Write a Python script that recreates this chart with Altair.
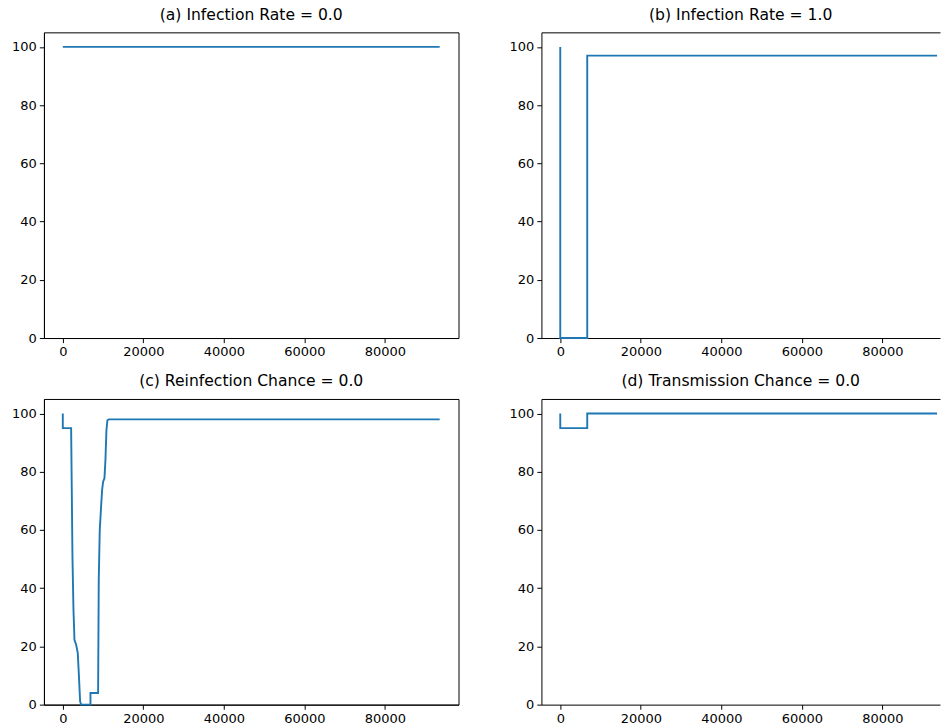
import altair as alt
import pandas as pd

# Percentage of healthy agents over simulation time, one run per parameter setting
a_t = [0, 93600]
a_v = [100, 100]

b_t = [0, 0, 6700, 6700, 93600]
b_v = [100, 0, 0, 97, 97]

c_t = [0, 0, 2070, 2230, 2400, 2650, 2900, 3310, 3720, 4050, 4300, 4550,
       6870, 6870, 8770, 8930, 9180, 9510, 9760, 10010, 10340, 10590, 10840,
       11080, 11410, 93600]
c_v = [100, 95, 95, 73.7, 50.8, 32.6, 22.3, 20.6, 17.7, 8.6, 1.1, 0,
       0, 4, 4, 42.9, 60, 68, 73.7, 76.6, 77.7, 84, 94.3,
       97.7, 98, 98]

d_t = [0, 0, 6700, 6700, 93600]
d_v = [100, 95, 95, 100, 100]

titles = ["(a) Infection Rate = 0.0", "(b) Infection Rate = 1.0",
          "(c) Reinfection Chance = 0.0", "(d) Transmission Chance = 0.0"]

x_ticks = [0, 20000, 40000, 60000, 80000]
y_ticks = [0, 20, 40, 60, 80, 100]

BLUE = "#1f77b4"


def frame(t, v):
    return pd.DataFrame({"t": t, "v": v, "i": list(range(len(t)))})


def panel(t, v, title, x_max, width, right_side):
    df = frame(t, v)
    xs = alt.Scale(domain=[-4680, x_max], nice=False, zero=False)
    ys = alt.Scale(domain=[0, 105], nice=False, zero=False)
    line = alt.Chart(df).mark_line(color=BLUE, strokeWidth=1.9).encode(
        x=alt.X("t:Q", scale=xs, title=None,
                axis=alt.Axis(values=x_ticks, format="d", grid=False)),
        y=alt.Y("v:Q", scale=ys, title=None,
                axis=alt.Axis(values=y_ticks, format="d", grid=False)),
        order="i:Q",
    )
    if not right_side:
        return line.properties(
            width=width, height=306,
            title=alt.TitleParams(title),
            view=alt.ViewBackground(stroke="black", strokeWidth=1),
        )
    # open-ended panel: border drawn by axis domains (left, bottom, top)
    top = alt.Chart(df).mark_rule(opacity=0).encode(
        x=alt.X("t:Q", scale=xs, title=None,
                axis=alt.Axis(orient="top", labels=False, ticks=False,
                              domain=True, grid=False)),
    )
    return alt.layer(line, top).resolve_axis(x="independent").properties(
        width=width, height=306,
        title=alt.TitleParams(title),
        view=alt.ViewBackground(stroke="transparent"),
    )


pa = panel(a_t, a_v, titles[0], 98280, 415, False)
pb = panel(b_t, b_v, titles[1], 94330, 399, True)
pc = panel(c_t, c_v, titles[2], 98280, 415, False)
pd_ = panel(d_t, d_v, titles[3], 94330, 399, True)

chart = alt.vconcat(
    alt.hconcat(pa, pb, spacing=49),
    alt.hconcat(pc, pd_, spacing=49),
    spacing=13,
).properties(
    padding={"left": 11, "top": 6, "right": 0, "bottom": 0},
    background="white",
).configure_axis(
    labelFont="DejaVu Sans", labelFontSize=13, labelColor="black",
    tickColor="black", tickSize=4.6, tickWidth=1, labelPadding=3,
    domainColor="black", domainWidth=1, grid=False,
).configure_title(
    font="DejaVu Sans", fontSize=15.6, fontWeight="normal", color="black",
    anchor="middle", baseline="alphabetic", offset=9,
).configure_view(
    stroke="black",
)

chart.save("out.html", embed_options={"renderer": "svg", "actions": False})
